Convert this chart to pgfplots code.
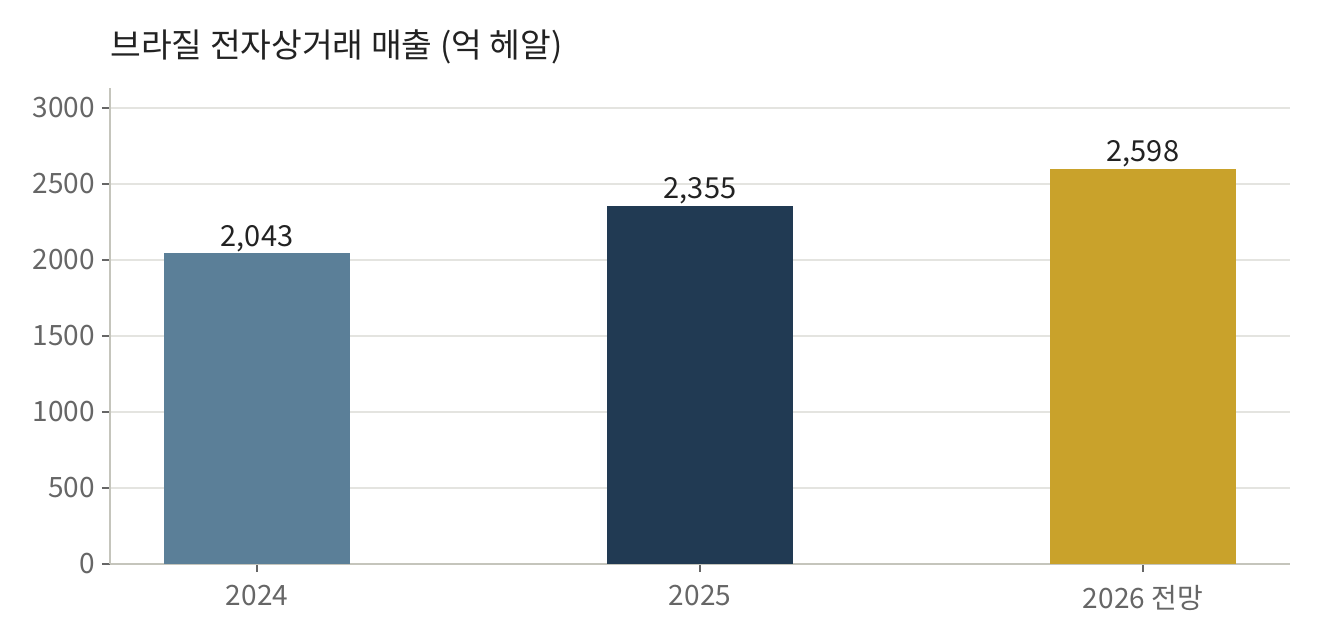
\documentclass[border=0pt]{standalone}
\usepackage{fontspec}
\setmainfont{Noto Sans CJK KR}
\usepackage{pgfplots}
\pgfplotsset{compat=1.18}
\definecolor{cA}{HTML}{5B7F98}
\definecolor{cB}{HTML}{213A53}
\definecolor{cC}{HTML}{C9A22B}
\definecolor{axisc}{HTML}{C5C5BC}
\definecolor{gridc}{HTML}{E4E4E0}
\definecolor{tickc}{HTML}{666666}
\definecolor{textc}{HTML}{222222}
\begin{document}
\begin{tikzpicture}
\begin{axis}[
  at={(0,0)}, anchor=south west,
  scale only axis,
  width=590bp, height=238bp,
  xmin=-0.332, xmax=2.332,
  ymin=0, ymax=3130,
  axis x line*=bottom, axis y line*=left,
  axis line style={axisc, line width=1bp},
  xtick={0,1,2}, xticklabels={2024,2025,2026 전망},
  ytick={0,500,1000,1500,2000,2500,3000},
  ymajorgrids, grid style={gridc, line width=0.8bp},
  tick align=outside, major tick length=4bp,
  tick style={tickc, line width=0.8bp},
  x tick style={tickc, line width=0.6bp},
  /pgf/number format/assume math mode=true,
  ticklabel style={font=\fontsize{14bp}{16bp}\selectfont, text=tickc},
  xticklabel style={yshift=-3bp},
  yticklabel style={/pgf/number format/1000 sep={}},
  ybar, bar width=93bp,
  nodes near coords,
  nodes near coords style={font=\fontsize{14.5bp}{16bp}\selectfont, text=textc,
     /pgf/number format/1000 sep={,}, inner sep=0.5bp},
  every axis plot/.append style={bar shift=0pt, draw=none},
  clip=false,
]
\addplot[fill=cA] coordinates {(0,2043)};
\addplot[fill=cB] coordinates {(1,2355)};
\addplot[fill=cC] coordinates {(2,2598)};
\end{axis}
\node[anchor=base west, font=\fontsize{16.7bp}{19bp}\selectfont, text=textc, inner sep=0pt]
  at (0bp, 253bp) {브라질 전자상거래 매출 (억 헤알)};
\useasboundingbox (-55bp,-38bp) rectangle (605bp,282bp);
\end{tikzpicture}
\end{document}
